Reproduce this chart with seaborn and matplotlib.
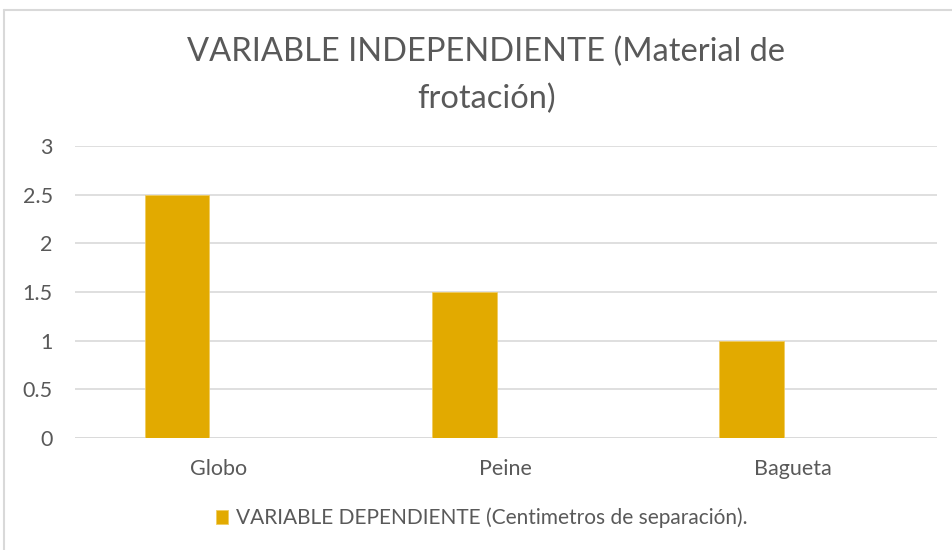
import matplotlib
matplotlib.use("Agg")
import matplotlib.pyplot as plt
import seaborn as sns
import pandas as pd
from matplotlib.lines import Line2D

materiales = ["Globo", "Peine", "Bagueta"]
separacion = [2.5, 1.5, 1.0]
serie = "VARIABLE DEPENDIENTE (Centimetros de separación)."
titulo = "VARIABLE INDEPENDIENTE (Material de\nfrotación)"
yticks = [0, 0.5, 1, 1.5, 2, 2.5, 3]

GOLD = "#E2AA00"
GREY_TXT = "#595959"
GRID = "#D9D9D9"

sns.set_theme(style="white")
plt.rcParams['font.family'] = ['Lato', 'DejaVu Sans']

df = pd.DataFrame({"material": materiales, "cm": separacion})

fig = plt.figure(figsize=(9.52, 5.5), dpi=100)
ax = fig.add_axes([0.0788, 0.2036, 0.9052, 0.5309])

sns.barplot(data=df, x="material", y="cm", color=GOLD, width=0.226,
            saturation=1, ax=ax, label=serie, zorder=3)
# excel style: bar sits left of the category centre
for p in ax.patches:
    p.set_x(p.get_x() - 0.145)
    p.set_edgecolor("#F0CC60")
    p.set_linewidth(0.6)

ax.set_xlim(-0.5, 2.5)
ax.set_ylim(0, 3)
ax.set_yticks(yticks)
ax.set_yticklabels(["0", "0.5", "1", "1.5", "2", "2.5", "3"])
ax.yaxis.grid(True, color=GRID, linewidth=1.2, zorder=0)
ax.set_xlabel("")
ax.set_ylabel("")
for s in ax.spines.values():
    s.set_visible(False)
ax.axhline(0, color=GRID, linewidth=1.2, zorder=1)
ax.tick_params(axis="both", length=0, colors=GREY_TXT, labelsize=15.5)
ax.tick_params(axis="y", pad=16)
ax.tick_params(axis="x", pad=15)

fig.suptitle(titulo, x=0.511, y=0.934, fontsize=23.5, color=GREY_TXT,
             linespacing=1.68, va="top")

ax.legend(loc="center", bbox_to_anchor=(0.506, 0.058), bbox_transform=fig.transFigure,
          frameon=False, fontsize=15, handlelength=0.6, handleheight=0.6,
          handletextpad=0.4, labelcolor=GREY_TXT)

# chart frame (top and left edge visible in the screenshot)
fig.add_artist(Line2D([0.004, 0.004], [0, 0.982], color=GRID, lw=1.5, transform=fig.transFigure))
fig.add_artist(Line2D([0.004, 1], [0.982, 0.982], color=GRID, lw=1.5, transform=fig.transFigure))

fig.savefig("out.png", dpi=100)
